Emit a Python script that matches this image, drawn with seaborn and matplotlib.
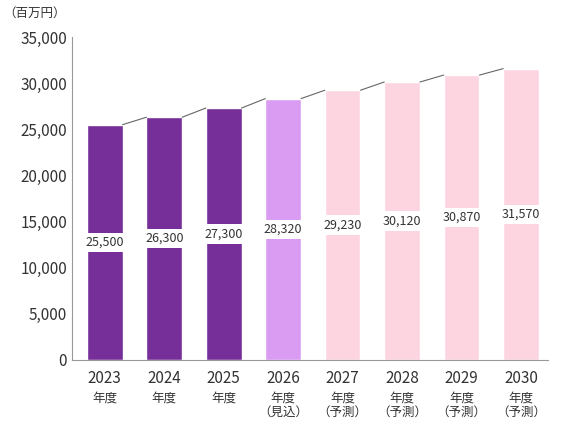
import matplotlib
matplotlib.use("Agg")
import matplotlib.pyplot as plt
import seaborn as sns
import pandas as pd

years = ["2023", "2024", "2025", "2026", "2027", "2028", "2029", "2030"]
suffix = ["年度", "年度", "年度", "年度\n（見込）", "年度\n（予測）", "年度\n（予測）", "年度\n（予測）", "年度\n（予測）"]
values = [25500, 26300, 27300, 28320, 29230, 30120, 30870, 31570]
colors = ["#762E98", "#762E98", "#762E98", "#DA9CF2", "#FDD5E0", "#FDD5E0", "#FDD5E0", "#FDD5E0"]

sns.set_style("white")
plt.rcParams['font.family'] = ['Noto Sans CJK JP', 'DejaVu Sans']

fig = plt.figure(figsize=(5.63, 4.25), dpi=100)
ax = fig.add_axes([0.128, 0.153, 0.845, 0.76])
df = pd.DataFrame({"year": years, "value": values})
sns.barplot(data=df, x="year", y="value", hue="year", palette=colors, legend=False,
            width=0.6, saturation=1, ax=ax)
w = 0.3
for i in range(len(values) - 1):
    ax.plot([i + w, i + 1 - w], [values[i], values[i + 1]], color="#666666", lw=0.8)
for i, v in enumerate(values):
    ax.text(i, v / 2, f"{v:,}", ha="center", va="center", fontsize=9, color="#333333",
            bbox=dict(boxstyle="square,pad=0.25", fc="white", ec="none"))
ax.set_ylim(0, 35000)
ax.set_xlim(-0.55, 7.45)
ax.set_yticks(range(0, 35001, 5000))
ax.set_yticklabels([f"{t:,}" for t in range(0, 35001, 5000)], fontsize=11, color="#333333")
ax.set_xticks(range(len(years)))
ax.set_xticklabels([""] * len(years))
for i, (y, s) in enumerate(zip(years, suffix)):
    ax.text(i, -1100, y, ha="center", va="top", fontsize=11, color="#333333")
    ax.text(i, -3400, s, ha="center", va="top", fontsize=9, color="#333333", linespacing=1.1)
ax.set_xlabel("")
ax.set_ylabel("")
for s in ["top", "right"]:
    ax.spines[s].set_visible(False)
ax.spines["left"].set_color("#999999")
ax.spines["bottom"].set_color("#999999")
ax.tick_params(axis="both", length=0)
fig.text(0.005, 0.985, "（百万円）", fontsize=9, color="#333333", va="top")
fig.savefig("out.png", dpi=100)
